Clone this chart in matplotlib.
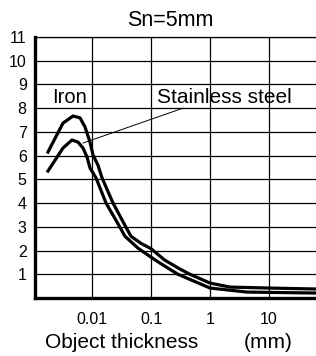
import numpy as np
import matplotlib.pyplot as plt

plt.rcParams['font.family'] = ['Liberation Sans', 'DejaVu Sans']

# values
iron_x = [0.00179, 0.00322, 0.00476, 0.00627, 0.0076, 0.00925, 0.0104, 0.0126,
          0.0148, 0.0227, 0.0377, 0.0458, 0.068, 0.1, 0.17, 0.31, 0.458,
          1.0, 2.18, 10, 60]
iron_y = [6.15, 7.37, 7.67, 7.59, 7.21, 6.57, 6.03, 5.6,
          5.06, 4.0, 2.98, 2.6, 2.3, 2.08, 1.6, 1.22, 1.0,
          0.63, 0.46, 0.42, 0.38]

steel_x = [0.00179, 0.00322, 0.00458, 0.00579, 0.00704, 0.00823, 0.00925, 0.0117,
           0.0173, 0.0298, 0.0362, 0.0603, 0.0962, 0.142, 0.286, 1.0, 4.24, 60]
steel_y = [5.35, 6.32, 6.66, 6.57, 6.32, 5.94, 5.48, 5.06,
           4.0, 2.98, 2.6, 2.1, 1.75, 1.47, 1.0, 0.42, 0.25, 0.21]

x_ticks = [0.01, 0.1, 1, 10]
x_tick_labels = ['0.01', '0.1', '1', '10']
y_ticks = list(range(1, 12))

fig = plt.figure(figsize=(3.16, 3.56), dpi=100)
ax = fig.add_axes([35 / 316, 1 - 298 / 356, 1 - 35 / 316, 261 / 356])

ax.set_xscale('log')
ax.set_xlim(0.00108, 62.7)
ax.set_ylim(0, 11)

ax.set_xticks(x_ticks)
ax.set_xticklabels(x_tick_labels)
ax.xaxis.set_minor_locator(plt.NullLocator())
ax.set_yticks(y_ticks)
ax.tick_params(length=0, labelsize=11.5)
ax.tick_params(axis='y', pad=6)
ax.tick_params(axis='x', pad=10)
ax.grid(True, color='black', lw=0.9)

for side in ['left', 'bottom']:
    ax.spines[side].set_linewidth(2.4)
ax.spines['top'].set_linewidth(0.9)
ax.spines['right'].set_visible(False)

ax.plot(iron_x, iron_y, color='black', lw=2.3, solid_joinstyle='round')
ax.plot(steel_x, steel_y, color='black', lw=2.3, solid_joinstyle='round')

ax.text(0.0021, 8.2, 'Iron', fontsize=14.5, va='baseline')
ax.text(0.126, 8.2, 'Stainless steel', fontsize=15, va='baseline')
ax.plot([0.00704, 0.348], [6.53, 8.0], color='black', lw=0.7)

fig.text(170 / 316, 1 - 21 / 356, 'Sn=5mm', fontsize=15.5, ha='center', va='center')
fig.text(45 / 316, 1 - 342 / 356, 'Object thickness', fontsize=15, ha='left', va='center')
fig.text(268 / 316, 1 - 342 / 356, '(mm)', fontsize=15, ha='center', va='center')

fig.savefig('out.png', dpi=100)
